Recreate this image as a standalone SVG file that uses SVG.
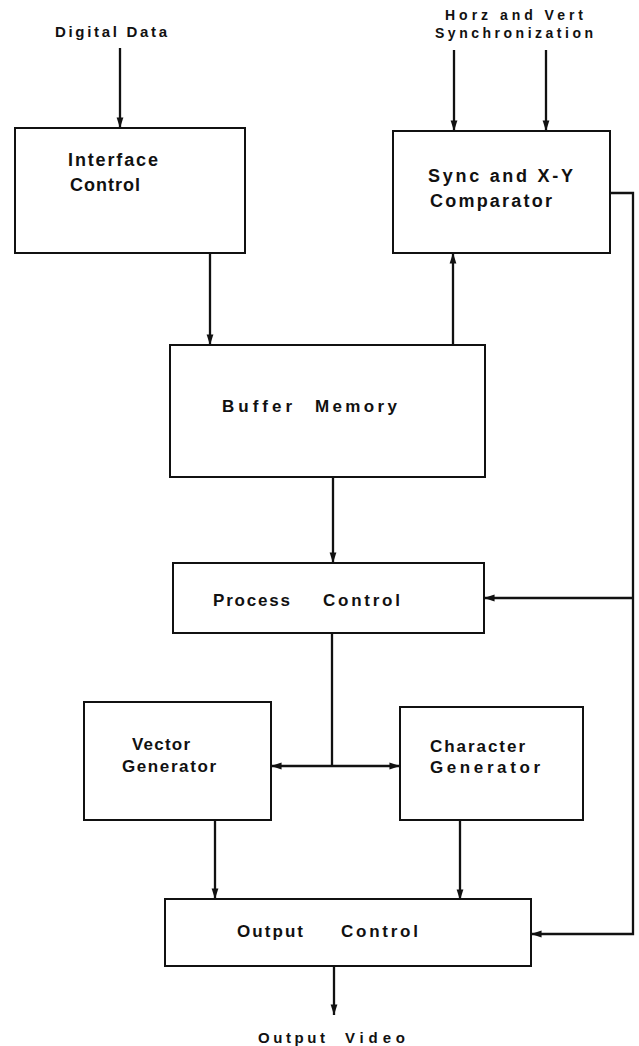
<svg xmlns="http://www.w3.org/2000/svg" width="639" height="1046" viewBox="0 0 639 1046">
  <style>
    .box { fill: #ffffff; stroke: #111111; stroke-width: 2; }
    .wire { fill: none; stroke: #111111; stroke-width: 2.3; }
    .lbl { font-family: "Liberation Sans", "DejaVu Sans", sans-serif; font-weight: bold; fill: #111111; }
  </style>
  <defs>
    <marker id="arrow" viewBox="0 0 10 10" refX="10" refY="5" markerWidth="4.6" markerHeight="4.6" markerUnits="strokeWidth" orient="auto">
      <path d="M0,1.8 L10,5 L0,8.2 Z" fill="#111111"/>
    </marker>
  </defs>
  <rect width="639" height="1046" fill="#ffffff"/>

  <!-- external labels -->
  <text class="lbl" x="55" y="37" font-size="15" textLength="112" lengthAdjust="spacing">Digital Data</text>
  <text class="lbl" font-size="14"><tspan x="445" y="20" textLength="138" lengthAdjust="spacing">Horz and Vert</tspan><tspan x="435" y="38" textLength="158" lengthAdjust="spacing">Synchronization</tspan></text>
  <text class="lbl" font-size="15"><tspan x="258" y="1043" textLength="67" lengthAdjust="spacing">Output</tspan><tspan x="345" y="1043" textLength="60" lengthAdjust="spacing">Video</tspan></text>

  <!-- connectors -->
  <g id="connectors">
    <path class="wire" d="M120,48 V128" marker-end="url(#arrow)"/>
    <path class="wire" d="M454,50 V131" marker-end="url(#arrow)"/>
    <path class="wire" d="M546,50 V131" marker-end="url(#arrow)"/>
    <path class="wire" d="M210,253 V345" marker-end="url(#arrow)"/>
    <path class="wire" d="M453,345 V253" marker-end="url(#arrow)"/>
    <path class="wire" d="M610,193 H633 V934 H531" marker-end="url(#arrow)"/>
    <path class="wire" d="M633,598 H484" marker-end="url(#arrow)"/>
    <path class="wire" d="M333,477 V563" marker-end="url(#arrow)"/>
    <path class="wire" d="M332,633 V766"/>
    <path class="wire" d="M332,766 H271" marker-end="url(#arrow)"/>
    <path class="wire" d="M332,766 H400" marker-end="url(#arrow)"/>
    <path class="wire" d="M215,820 V899" marker-end="url(#arrow)"/>
    <path class="wire" d="M460,820 V900" marker-end="url(#arrow)"/>
    <path class="wire" d="M334,966 V1015" marker-end="url(#arrow)"/>
  </g>

  <!-- nodes -->
  <g id="interface-control">
    <rect class="box" x="15" y="128" width="230" height="125"/>
    <text class="lbl" font-size="18"><tspan x="68" y="166" textLength="90" lengthAdjust="spacing">Interface</tspan><tspan x="70" y="191" textLength="70" lengthAdjust="spacing">Control</tspan></text>
  </g>
  <g id="sync-comparator">
    <rect class="box" x="393" y="131" width="217" height="122"/>
    <text class="lbl" font-size="18"><tspan x="428" y="182" textLength="145" lengthAdjust="spacing">Sync and X-Y</tspan><tspan x="430" y="207" textLength="122" lengthAdjust="spacing">Comparator</tspan></text>
  </g>
  <g id="buffer-memory">
    <rect class="box" x="170" y="345" width="315" height="132"/>
    <text class="lbl" font-size="17"><tspan x="222" y="412" textLength="70" lengthAdjust="spacing">Buffer</tspan><tspan x="315" y="412" textLength="82" lengthAdjust="spacing">Memory</tspan></text>
  </g>
  <g id="process-control">
    <rect class="box" x="173" y="563" width="311" height="70"/>
    <text class="lbl" font-size="17"><tspan x="213" y="606" textLength="77" lengthAdjust="spacing">Process</tspan><tspan x="323" y="606" textLength="77" lengthAdjust="spacing">Control</tspan></text>
  </g>
  <g id="vector-generator">
    <rect class="box" x="84" y="702" width="187" height="118"/>
    <text class="lbl" font-size="17"><tspan x="132" y="750" textLength="58" lengthAdjust="spacing">Vector</tspan><tspan x="122" y="772" textLength="94" lengthAdjust="spacing">Generator</tspan></text>
  </g>
  <g id="character-generator">
    <rect class="box" x="400" y="707" width="183" height="113"/>
    <text class="lbl" font-size="17"><tspan x="430" y="752" textLength="95" lengthAdjust="spacing">Character</tspan><tspan x="430" y="773" textLength="110" lengthAdjust="spacing">Generator</tspan></text>
  </g>
  <g id="output-control">
    <rect class="box" x="165" y="899" width="366" height="67"/>
    <text class="lbl" font-size="17"><tspan x="237" y="937" textLength="66" lengthAdjust="spacing">Output</tspan><tspan x="341" y="937" textLength="77" lengthAdjust="spacing">Control</tspan></text>
  </g>
</svg>
